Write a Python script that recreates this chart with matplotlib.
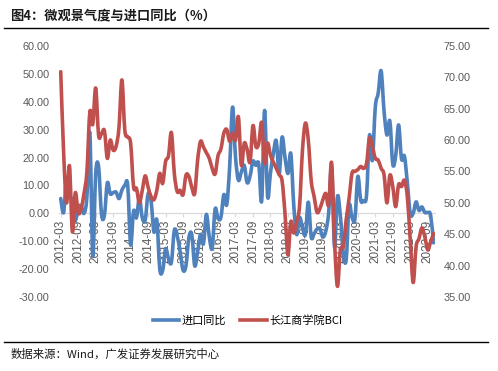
import numpy as np
import pandas as pd
import matplotlib
matplotlib.use("Agg")
import matplotlib.pyplot as plt
from matplotlib.path import Path
from matplotlib.patches import PathPatch
from matplotlib.lines import Line2D

# 月份 2012-03 ~ 2022-11
months = pd.period_range("2012-03", "2022-11", freq="M").strftime("%Y-%m").tolist()

# 进口同比 (%), 左轴
import_yoy = [
    5.3, 0.3, 12.7, 6.3, 4.7, -2.6, 2.4, 2.4, 0.0, 6.0,                      # 2012
    28.8, -15.2, 14.1, 16.8, -0.3, -0.7, 10.9, 7.0, 7.4, 7.6, 5.3, 8.3,      # 2013
    10.0, 10.1, -11.3, 0.8, -1.6, 5.5, -1.6, -2.4, 7.0, 4.6, -6.7, -2.4,     # 2014
    -19.9, -20.5, -12.7, -16.2, -17.6, -6.1, -8.1, -13.8, -20.4, -18.8, -8.7, -7.6,  # 2015
    -18.8, -13.8, -7.6, -10.9, -0.4, -8.4, -12.5, 1.5, -1.9, -1.4, 6.7, 3.1, # 2016
    16.7, 38.1, 20.3, 11.9, 14.8, 17.2, 11.0, 13.3, 18.7, 17.2, 17.7, 4.5,   # 2017
    36.9, 6.3, 14.4, 21.5, 26.0, 14.1, 27.3, 20.0, 14.3, 21.4, 3.0, -7.6,    # 2018
    -1.5, -5.2, -7.6, 4.0, -8.5, -7.3, -5.6, -5.6, -8.5, -6.4, 0.3, 16.3,    # 2019
    -12.0, 6.0, -0.9, -14.2, -16.7, 2.7, -1.4, -2.1, 13.2, 4.7, 4.5, 6.5,    # 2020
    28.0, 19.0, 38.1, 43.1, 51.1, 36.7, 28.1, 33.1, 17.6, 20.6, 31.7, 19.5,  # 2021
    20.5, 11.0, -0.1, 0.0, 4.1, 1.0, 2.3, 0.3, 0.3, -0.7, -10.6,             # 2022
]

# 长江商学院BCI, 右轴
bci = [
    70.9, 58, 50, 55.9, 45.4, 51.6, 48.4, 49, 51.5, 55,
    64.5, 62.5, 68.3, 60.8, 61, 61.5, 57.1, 60, 58.4, 59, 62, 69.6,
    61.6, 60.5, 59.5, 52.6, 52.3, 50, 52, 54.3, 52.5, 51, 50.5, 52,
    54.7, 53.1, 56.6, 57.5, 61.2, 54.7, 51.8, 52, 51.3, 54.4, 54.2, 52.5,
    51.5, 56.8, 59.8, 58.9, 58, 57.1, 55.5, 54.6, 57.5, 58.6, 61.1, 61.7,
    59.8, 61.1, 60, 63.7, 56, 59.5, 58.5, 56.5, 62.3, 59, 59.5, 62.8,
    56.3, 59.5, 57.6, 56.5, 55.5, 54.5, 53.5, 48.3, 41.7, 47, 45.2, 47,
    49.5, 58.4, 62.7, 60, 53.5, 51, 48.5, 49.1, 50.5, 51.5, 49.7, 56.4,
    44, 36.7, 42.5, 43, 47.3, 50.7, 54.7, 55, 55.3, 55.8, 55.5, 56.3,
    60.3, 59, 57.1, 56.8, 55.5, 54.5, 50, 54.4, 52.6, 49.4, 52.9, 52.6,
    53.6, 51, 44.1, 37.3, 43, 44.3, 46, 44.6, 42.5, 43.8, 45.1,
]

BLUE = "#4F81BD"
RED = "#C0504D"
GRAY = "#595959"
CJK = ["Noto Sans CJK SC", "DejaVu Sans"]
NUM = ["Liberation Sans", "DejaVu Sans"]


def smooth_path(xs, ys):
    # 类似Excel平滑线：Catmull-Rom 转三次贝塞尔
    n = len(xs)
    verts = [(xs[0], ys[0])]
    codes = [Path.MOVETO]
    for i in range(n - 1):
        a = max(i - 1, 0)
        d = min(i + 2, n - 1)
        c1 = (xs[i] + (xs[i + 1] - xs[a]) / 6, ys[i] + (ys[i + 1] - ys[a]) / 6)
        c2 = (xs[i + 1] - (xs[d] - xs[i]) / 6, ys[i + 1] - (ys[d] - ys[i]) / 6)
        verts += [c1, c2, (xs[i + 1], ys[i + 1])]
        codes += [Path.CURVE4] * 3
    return Path(verts, codes)


x = np.arange(len(months))

fig = plt.figure(figsize=(4.98, 3.71), dpi=100)
ax = fig.add_axes([0.119, 0.1995, 0.7545, 0.6765])
ax2 = ax.twinx()

ax.add_patch(PathPatch(smooth_path(x, import_yoy), fill=False, edgecolor=BLUE,
                       lw=2.6, capstyle="round", joinstyle="round", zorder=3))
ax2.add_patch(PathPatch(smooth_path(x, bci), fill=False, edgecolor=RED,
                        lw=2.6, capstyle="round", joinstyle="round", zorder=3))

ax.set_xlim(-0.5, len(months) - 0.5)
ax.set_ylim(-30, 60)
ax2.set_ylim(35, 75)

ax.set_yticks(np.arange(-30, 61, 10))
ax.set_yticklabels([f"{v:.2f}" for v in np.arange(-30, 61, 10)])
ax2.set_yticks(np.arange(35, 76, 5))
ax2.set_yticklabels([f"{v:.2f}" for v in np.arange(35, 76, 5)])

ax.set_xticks(x[::6])
ax.set_xticklabels(months[::6])

for sp in ["top", "left", "right"]:
    ax.spines[sp].set_visible(False)
for sp in ["top", "left", "right", "bottom"]:
    ax2.spines[sp].set_visible(False)
ax.spines["bottom"].set_position(("data", 0))
ax.spines["bottom"].set_color("#D9D9D9")
ax.spines["bottom"].set_linewidth(0.9)

ax.tick_params(axis="y", length=0, pad=7, labelsize=7.8, labelcolor=GRAY)
ax2.tick_params(axis="y", length=0, pad=6, labelsize=7.8, labelcolor=GRAY)
ax.tick_params(axis="x", length=3, color="#D9D9D9", pad=1.5, labelsize=8.5,
               labelcolor=GRAY, rotation=90)
for lab in ax.get_xticklabels() + ax.get_yticklabels() + ax2.get_yticklabels():
    lab.set_fontfamily(NUM)

handles = [Line2D([], [], color=BLUE, lw=2.6), Line2D([], [], color=RED, lw=2.6)]
fig.legend(handles, ["进口同比", "长江商学院BCI"], loc="center",
           bbox_to_anchor=(0.497, 0.137), ncol=2, frameon=False,
           prop={"family": CJK, "size": 8}, handlelength=2.4,
           handletextpad=0.2, columnspacing=1.3)

fig.text(0.02, 0.958, "图4：微观景气度与进口同比（%）", fontsize=9.5,
         fontweight="bold", family=CJK, color="#1a1a1a", va="center")
fig.text(0.022, 0.046, "数据来源：Wind，广发证券发展研究中心", fontsize=8.2,
         family=CJK, color="#1a1a1a", va="center")
fig.add_artist(Line2D([0.008, 0.98], [0.924, 0.924], color="black", lw=1.0))
fig.add_artist(Line2D([0.008, 0.98], [0.079, 0.079], color="black", lw=1.0))

fig.savefig("out.png", dpi=100)
